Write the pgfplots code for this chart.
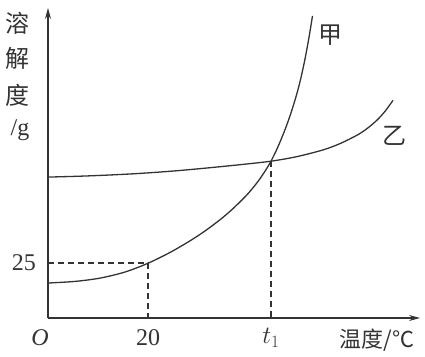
\documentclass[border=0pt]{standalone}
\usepackage{fontspec}
\setmainfont{Liberation Serif}
\newfontfamily\cjk{Noto Sans CJK SC}
\usepackage{pgfplots}
\pgfplotsset{compat=1.18}
\usetikzlibrary{arrows.meta}
\definecolor{ink}{HTML}{333333}
\begin{document}
\begin{tikzpicture}[x=1pt,y=1pt]
\path[use as bounding box] (-48,-38) rectangle (377,318);
\begin{axis}[
  scale only axis, width=372pt, height=310pt,
  xmin=0, xmax=74.4, ymin=0, ymax=141,
  axis lines=left,
  axis line style={ink, line width=1.3pt, -{Stealth[length=11pt,width=6pt]}},
  xtick=\empty, ytick=\empty,
  clip=false,
]
\addplot[ink, line width=1.3pt, smooth] coordinates {
  (0,15.91) (5.4,16.64) (10.4,18.14) (15.4,20.91) (20,24.91) (24.4,29.82) (28.4,35.09) (31.4,39.59) (34.4,44.68) (36.9,49.55) (39.4,55.09) (41,59.23) (42.4,63.36) (43.6,67.5) (44.6,71.32) (46,77.91) (47.4,85.64) (48.5,92.64) (49.6,100.64) (50.5,108.41) (51.4,117.82) (52.2,127.64) (52.9,137.41)};
\addplot[ink, line width=1.3pt, smooth] coordinates {
  (0,64.09) (6.4,64.5) (12.4,65.05) (18.4,65.77) (25.4,66.91) (31.8,68.23) (38.4,69.73) (44.6,71.32) (49.8,73.41) (55,76.45) (58.4,79.32) (61.8,83.14) (63.8,86.14) (65.8,90) (67.4,94) (69,99)};
\addplot[ink, line width=1.1pt, dash pattern=on 6pt off 4pt] coordinates {(0,25) (20,25) (20,0)};
\addplot[ink, line width=1.1pt, dash pattern=on 6pt off 4pt] coordinates {(44.6,71.32) (44.6,0)};
\node[ink, font=\cjk\fontsize{24}{26}\selectfont] at (axis cs:-6,134.1) {溶};
\node[ink, font=\cjk\fontsize{24}{26}\selectfont] at (axis cs:-6,118.2) {解};
\node[ink, font=\cjk\fontsize{24}{26}\selectfont] at (axis cs:-6,101.4) {度};
\node[ink, font=\fontsize{24}{26}\selectfont] at (axis cs:-5.6,85.5) {/g};
\node[ink, font=\fontsize{24}{26}\selectfont] at (axis cs:-4.8,25) {25};
\node[ink, font=\fontsize{24}{26}\selectfont\itshape] at (axis cs:-1.6,-9.1) {O};
\node[ink, font=\fontsize{24}{26}\selectfont] at (axis cs:20,-9.1) {20};
\node[ink, font=\fontsize{24}{26}\selectfont] at (axis cs:44.6,-9.1) {$t_1$};
\node[ink, font=\cjk\fontsize{22}{24}\selectfont] at (axis cs:65.8,-10) {温度/℃};
\node[ink, font=\cjk\fontsize{24}{26}\selectfont] at (axis cs:56.4,128.6) {甲};
\node[ink, font=\cjk\fontsize{24}{26}\selectfont] at (axis cs:69.2,82.7) {乙};
\end{axis}
\end{tikzpicture}
\end{document}
